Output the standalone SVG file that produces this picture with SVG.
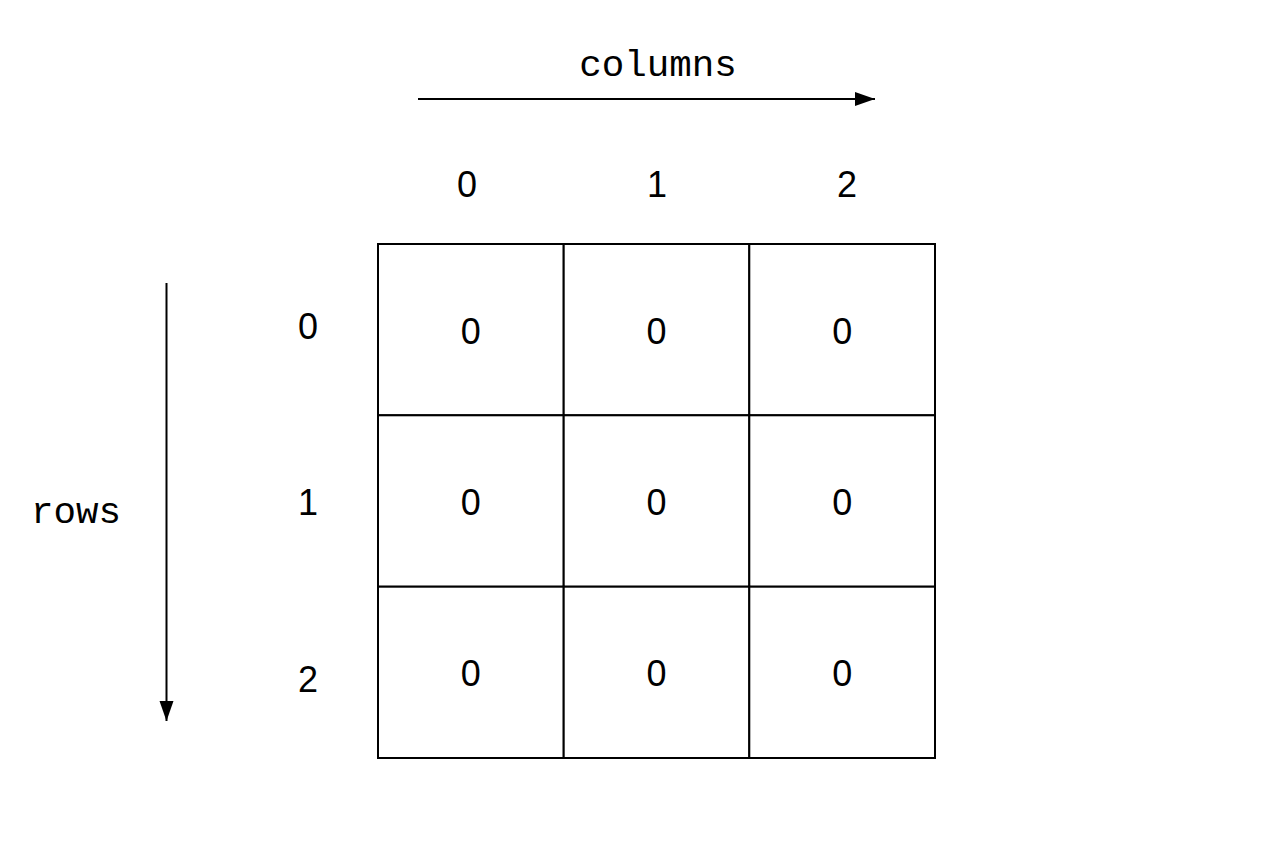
<svg xmlns="http://www.w3.org/2000/svg" width="1285" height="850" viewBox="0 0 1285 850">
<style>
.mono{font-family:"Liberation Mono","DejaVu Sans Mono",monospace;font-size:37.5px;fill:#000;text-anchor:middle}
.num{font-family:"Liberation Sans",Arial,sans-serif;font-size:36px;fill:#000;text-anchor:middle}
.cell{fill:#fff;stroke:#000;stroke-width:2}
.axis{stroke:#000;stroke-width:2;fill:none}
</style>
<defs>
<marker id="ah" markerUnits="userSpaceOnUse" markerWidth="22" markerHeight="16" refX="20" refY="7" orient="auto">
<path d="M0,0 L20,7 L0,14 Z" fill="#000"/>
</marker>
</defs>
<rect width="1285" height="850" fill="#fff"/>
<g id="connectors">
<line class="axis" x1="418" y1="99" x2="875" y2="99" marker-end="url(#ah)"/>
<line class="axis" x1="166.5" y1="283" x2="166.5" y2="721" marker-end="url(#ah)"/>
</g>
<g id="labels">
<text class="mono" x="658" y="76">columns</text>
<text class="mono" x="76" y="523">rows</text>
<text class="num" x="467" y="197">0</text>
<text class="num" x="657" y="197">1</text>
<text class="num" x="847" y="197">2</text>
<text class="num" x="308" y="339">0</text>
<text class="num" x="308" y="515">1</text>
<text class="num" x="308" y="692">2</text>
</g>
<g id="grid">
<g id="c00"><rect class="cell" x="378" y="244" width="185.7" height="171.3"/><text class="num" x="470.8" y="344">0</text></g>
<g id="c01"><rect class="cell" x="563.7" y="244" width="185.6" height="171.3"/><text class="num" x="656.5" y="344">0</text></g>
<g id="c02"><rect class="cell" x="749.3" y="244" width="185.7" height="171.3"/><text class="num" x="842.2" y="344">0</text></g>
<g id="c10"><rect class="cell" x="378" y="415.3" width="185.7" height="171.4"/><text class="num" x="470.8" y="515">0</text></g>
<g id="c11"><rect class="cell" x="563.7" y="415.3" width="185.6" height="171.4"/><text class="num" x="656.5" y="515">0</text></g>
<g id="c12"><rect class="cell" x="749.3" y="415.3" width="185.7" height="171.4"/><text class="num" x="842.2" y="515">0</text></g>
<g id="c20"><rect class="cell" x="378" y="586.7" width="185.7" height="171.3"/><text class="num" x="470.8" y="686">0</text></g>
<g id="c21"><rect class="cell" x="563.7" y="586.7" width="185.6" height="171.3"/><text class="num" x="656.5" y="686">0</text></g>
<g id="c22"><rect class="cell" x="749.3" y="586.7" width="185.7" height="171.3"/><text class="num" x="842.2" y="686">0</text></g>
</g>
</svg>
